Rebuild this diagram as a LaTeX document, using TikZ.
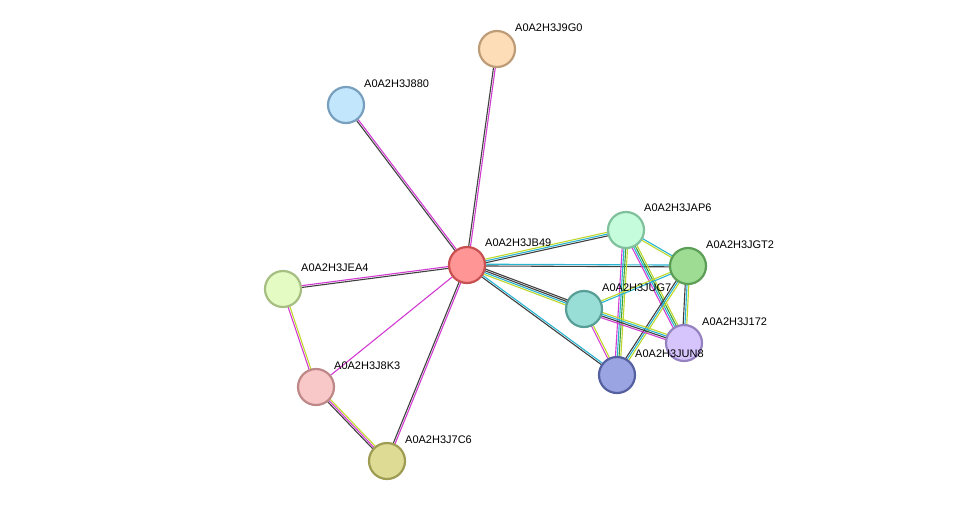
\documentclass[tikz,border=0pt]{standalone}
\usepackage{fontspec}
\setmainfont{Liberation Sans}
\usetikzlibrary{calc}
\definecolor{ek}{HTML}{404040}
\definecolor{em}{HTML}{D23CD2}
\definecolor{ec}{HTML}{28B4D2}
\definecolor{ey}{HTML}{C0D82C}
\definecolor{eg}{HTML}{3CA03C}
\newcommand\edg[4]{\foreach \c [count=\i] in {#4}{\pgfmathsetmacro\off{(\i-(#3+1)/2)*1.8}
  \draw[\c,line width=1.1pt] ($(#1)!\off pt!90:(#2)$) -- ($(#2)!\off pt!-90:(#1)$);}}
\newcommand\mynd[3]{\definecolor{f#1}{HTML}{#2}\definecolor{d#1}{HTML}{#3}%
  \node[nd,fill=f#1,draw=d#1] (n#1) at (#1) {};}
\begin{document}
\begin{tikzpicture}[x=1pt,y=-1pt,
  nd/.style={circle,minimum size=36pt,inner sep=0pt,line width=2.2pt},
  lb/.style={font=\fontsize{11}{12}\selectfont,anchor=west,inner sep=0pt}]
\useasboundingbox (0,0) rectangle (976,507);
\coordinate (JB49) at (467,265);
\coordinate (J9G0) at (497,49);
\coordinate (J880) at (346,105);
\coordinate (JEA4) at (283,289);
\coordinate (J8K3) at (316,387);
\coordinate (J7C6) at (387,461);
\coordinate (JAP6) at (626,230);
\coordinate (JGT2) at (688,266);
\coordinate (JUG7) at (584,309);
\coordinate (J172) at (684,343);
\coordinate (JUN8) at (617,375);
\edg{JB49}{J9G0}{2}{em,ek}
\edg{JB49}{J880}{2}{em,ek}
\edg{JB49}{JEA4}{2}{em,ek}
\edg{JB49}{J8K3}{1}{em}
\edg{JB49}{J7C6}{2}{ek,em}
\edg{JEA4}{J8K3}{2}{em,ey}
\edg{J8K3}{J7C6}{3}{ek,em,ey}
\edg{JB49}{JAP6}{3}{ek,ec,ey}
\edg{JB49}{JGT2}{2}{ek,ec}
\edg{JB49}{JUG7}{4}{ey,ec,ek,ek}
\edg{JB49}{JUN8}{2}{ek,ec}
\edg{JAP6}{JGT2}{2}{ey,ec}
\edg{JAP6}{JUN8}{4}{em,ec,eg,ey}
\edg{JAP6}{J172}{4}{em,ec,eg,ey}
\edg{JGT2}{JUG7}{2}{ey,ec}
\edg{JGT2}{JUN8}{3}{ek,ec,ey}
\edg{JGT2}{J172}{3}{ek,ec,ey}
\edg{JUG7}{J172}{4}{em,ek,ec,ey}
\edg{JUG7}{JUN8}{2}{em,ey}
\mynd{JB49}{FF9595}{C85050}
\mynd{J9G0}{FDDCB8}{BE9C78}
\mynd{J880}{C2E6FC}{78A0BE}
\mynd{JEA4}{E4FCC4}{A6BE82}
\mynd{J8K3}{F8C8C8}{BE8888}
\mynd{J7C6}{DEDC94}{9E9C52}
\mynd{JAP6}{C4FCDC}{80C09C}
\mynd{JGT2}{9EDC94}{5C9E56}
\mynd{JUG7}{98DED6}{569E96}
\mynd{J172}{D6C4FC}{9682C0}
\mynd{JUN8}{9AA4E2}{5560A0}
\node[lb] at ($(JB49)+(18,-22)$) {A0A2H3JB49};
\node[lb] at ($(J9G0)+(18,-21)$) {A0A2H3J9G0};
\node[lb] at ($(J880)+(18,-21)$) {A0A2H3J880};
\node[lb] at ($(JEA4)+(18,-21)$) {A0A2H3JEA4};
\node[lb] at ($(J8K3)+(18,-21)$) {A0A2H3J8K3};
\node[lb] at ($(J7C6)+(18,-21)$) {A0A2H3J7C6};
\node[lb] at ($(JAP6)+(18,-22)$) {A0A2H3JAP6};
\node[lb] at ($(JGT2)+(18,-21)$) {A0A2H3JGT2};
\node[lb] at ($(JUG7)+(18,-21)$) {A0A2H3JUG7};
\node[lb] at ($(JUN8)+(18,-21)$) {A0A2H3JUN8};
\node[lb] at ($(J172)+(18,-21)$) {A0A2H3J172};
\end{tikzpicture}
\end{document}
